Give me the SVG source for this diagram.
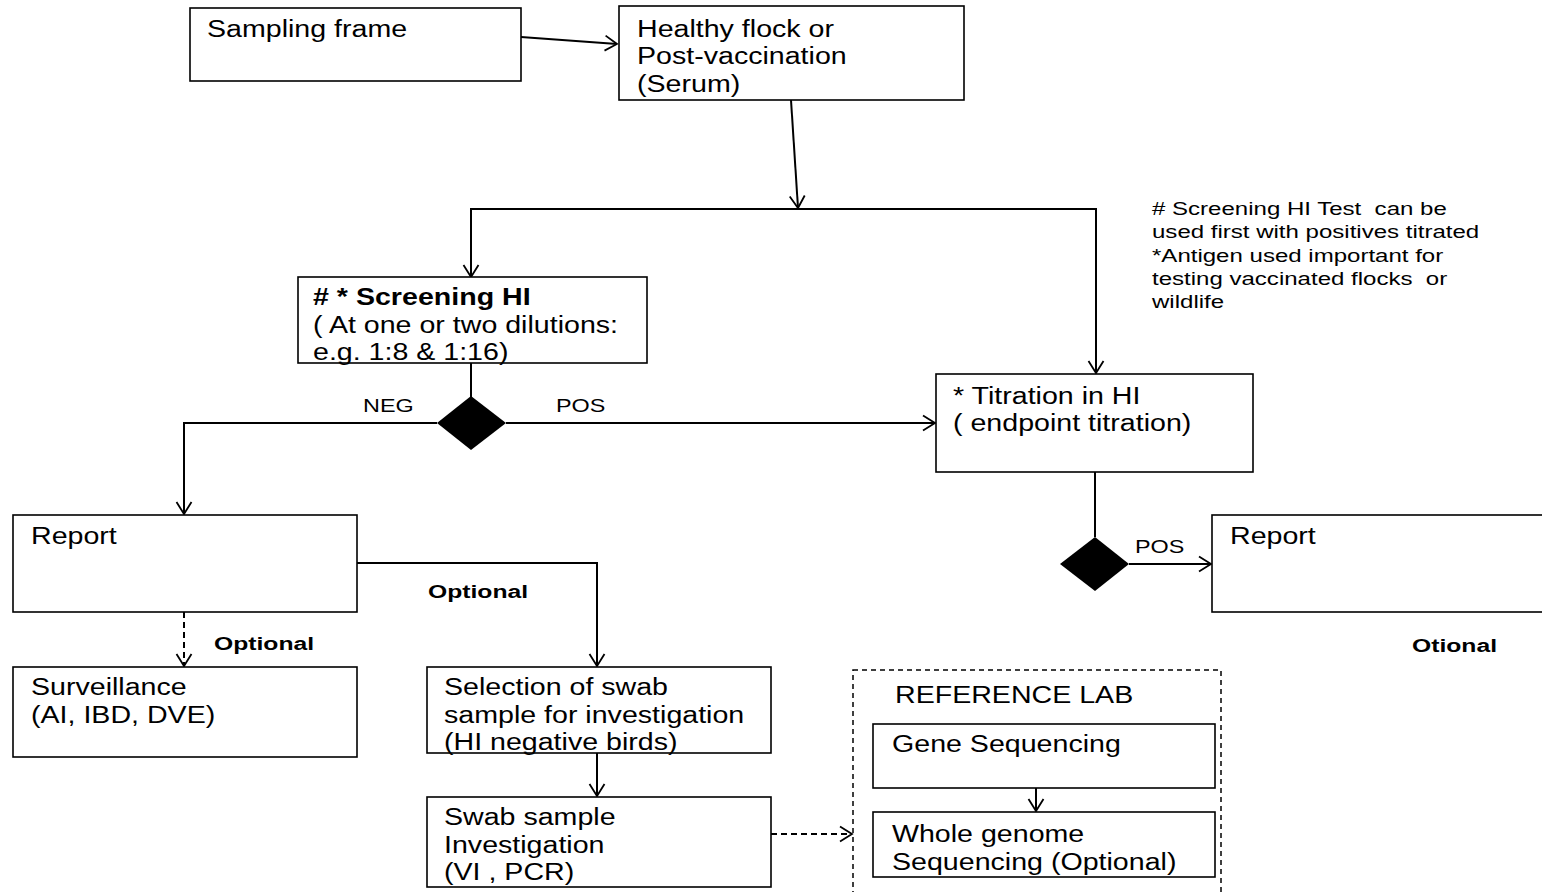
<svg xmlns="http://www.w3.org/2000/svg" width="1542" height="892" viewBox="0 0 1542 892">
<style>
.box{fill:#fff;stroke:#000;stroke-width:1.6}
.dbox{fill:none;stroke:#000;stroke-width:1.5;stroke-dasharray:5 4}
.t{font-family:"Liberation Sans",Arial,Helvetica,sans-serif;font-size:23px;fill:#000}
.b{font-weight:bold}
.s{font-family:"Liberation Sans",Arial,Helvetica,sans-serif;font-size:18px;fill:#000}
.o{font-family:"Liberation Sans",Arial,Helvetica,sans-serif;font-size:19px;font-weight:bold;fill:#000}
.n{font-family:"Liberation Sans",Arial,Helvetica,sans-serif;font-size:18.5px;fill:#000}
.c{fill:none;stroke:#000;stroke-width:2}
.d{fill:none;stroke:#000;stroke-width:2;stroke-dasharray:6 4}
.dia{fill:#000;stroke:none}
</style>
<defs>
<marker id="arr" markerUnits="userSpaceOnUse" markerWidth="16" markerHeight="18" refX="13" refY="9" orient="auto">
<path d="M1,1.5 L13,9 L1,16.5" fill="none" stroke="#000" stroke-width="1.8"/>
</marker>
</defs>
<rect width="1542" height="892" fill="#fff"/>

<g id="connectors">
<line class="c" x1="521" y1="37" x2="617" y2="44" marker-end="url(#arr)"/>
<line class="c" x1="791" y1="100" x2="798" y2="208" marker-end="url(#arr)"/>
<polyline class="c" points="471,277 471,209 1096,209 1096,373" marker-end="url(#arr)"/>
<line class="c" x1="471" y1="209" x2="471" y2="277" marker-end="url(#arr)"/>
<line class="c" x1="471" y1="363" x2="471" y2="397"/>
<polyline class="c" points="437,423 184,423 184,514" marker-end="url(#arr)"/>
<line class="c" x1="506" y1="423" x2="935" y2="423" marker-end="url(#arr)"/>
<line class="c" x1="1095" y1="472" x2="1095" y2="537"/>
<line class="c" x1="1129" y1="564" x2="1211" y2="564" marker-end="url(#arr)"/>
<polyline class="c" points="357,563 597,563 597,666" marker-end="url(#arr)"/>
<line class="d" x1="184" y1="612" x2="184" y2="666" marker-end="url(#arr)"/>
<line class="c" x1="597" y1="753" x2="597" y2="796" marker-end="url(#arr)"/>
<line class="d" x1="771" y1="834" x2="852" y2="834" marker-end="url(#arr)"/>
<line class="c" x1="1036" y1="788" x2="1036" y2="811" marker-end="url(#arr)"/>
</g>

<g id="sampling-frame">
<rect class="box" x="190" y="8" width="331" height="73"/>
<text class="t" transform="matrix(1.243 0 0 1 207 37)">Sampling frame</text>
</g>

<g id="healthy-flock">
<rect class="box" x="619" y="6" width="345" height="94"/>
<text class="t" transform="matrix(1.243 0 0 1 637 37)"><tspan x="0" y="0">Healthy flock or</tspan><tspan x="0" y="27.5">Post-vaccination</tspan><tspan x="0" y="55">(Serum)</tspan></text>
</g>

<g id="screening-hi">
<rect class="box" x="298" y="277" width="349" height="86"/>
<text class="t" transform="matrix(1.243 0 0 1 313 305)"><tspan class="b" x="0" y="0">#</tspan><tspan class="b"> * Screening HI</tspan><tspan x="0" y="28">( At one or two dilutions:</tspan><tspan x="0" y="55.5">e.g. 1:8 &amp; 1:16)</tspan></text>
</g>

<g id="decision-1">
<polygon class="dia" points="471,396 506,423 471,450 437,423"/>
<text class="s" transform="matrix(1.3 0 0 1 363 412)">NEG</text>
<text class="s" transform="matrix(1.3 0 0 1 556 412)">POS</text>
</g>

<g id="titration-hi">
<rect class="box" x="936" y="374" width="317" height="98"/>
<text class="t" transform="matrix(1.243 0 0 1 953 404)"><tspan x="0" y="0">* Titration in HI</tspan><tspan x="0" y="27">( endpoint titration)</tspan></text>
</g>

<g id="decision-2">
<polygon class="dia" points="1095,537 1129,564 1095,591 1060,564"/>
<text class="s" transform="matrix(1.3 0 0 1 1135 553)">POS</text>
</g>

<g id="report-left">
<rect class="box" x="13" y="515" width="344" height="97"/>
<text class="t" transform="matrix(1.243 0 0 1 31 544)">Report</text>
</g>

<g id="report-right">
<rect class="box" x="1212" y="515" width="350" height="97"/>
<text class="t" transform="matrix(1.243 0 0 1 1230 544)">Report</text>
</g>

<g id="labels-optional">
<text class="o" transform="matrix(1.3 0 0 1 428 598)">Optional</text>
<text class="o" transform="matrix(1.3 0 0 1 214 650)">Optional</text>
<text class="o" transform="matrix(1.3 0 0 1 1412 652)">Otional</text>
</g>

<g id="surveillance">
<rect class="box" x="13" y="667" width="344" height="90"/>
<text class="t" transform="matrix(1.243 0 0 1 31 695)"><tspan x="0" y="0">Surveillance</tspan><tspan x="0" y="28">(AI, IBD, DVE)</tspan></text>
</g>

<g id="selection-swab">
<rect class="box" x="427" y="667" width="344" height="86"/>
<text class="t" transform="matrix(1.243 0 0 1 444 695)"><tspan x="0" y="0">Selection of swab</tspan><tspan x="0" y="28">sample for investigation</tspan><tspan x="0" y="55.5">(HI negative birds)</tspan></text>
</g>

<g id="swab-investigation">
<rect class="box" x="427" y="797" width="344" height="90"/>
<text class="t" transform="matrix(1.243 0 0 1 444 825)"><tspan x="0" y="0">Swab sample</tspan><tspan x="0" y="28">Investigation</tspan><tspan x="0" y="55.5">(VI , PCR)</tspan></text>
</g>

<g id="reference-lab">
<rect class="dbox" x="853" y="670" width="368" height="240"/>
<text class="t" transform="matrix(1.243 0 0 1 895 703)">REFERENCE LAB</text>
</g>

<g id="gene-sequencing">
<rect class="box" x="873" y="724" width="342" height="64"/>
<text class="t" transform="matrix(1.243 0 0 1 892 752)">Gene Sequencing</text>
</g>

<g id="whole-genome">
<rect class="box" x="873" y="812" width="342" height="65"/>
<text class="t" transform="matrix(1.243 0 0 1 892 842)"><tspan x="0" y="0">Whole genome</tspan><tspan x="0" y="28">Sequencing (Optional)</tspan></text>
</g>

<g id="note">
<text class="n" xml:space="preserve" transform="matrix(1.3 0 0 1 1152 215)"><tspan x="0" y="0"># Screening HI Test  can be</tspan><tspan x="0" y="23.3">used first with positives titrated</tspan><tspan x="0" y="46.6">*Antigen used important for</tspan><tspan x="0" y="69.9">testing vaccinated flocks  or</tspan><tspan x="0" y="93.2">wildlife</tspan></text>
</g>
</svg>
